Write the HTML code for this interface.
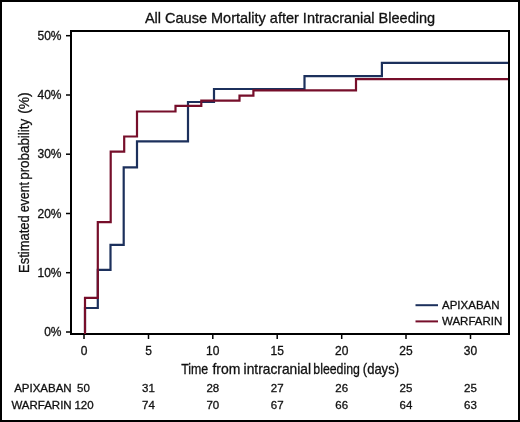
<!DOCTYPE html>
<html><head><meta charset="utf-8">
<style>
html,body{margin:0;padding:0;background:#fff;}
svg{display:block;will-change:transform;}
text{font-family:"Liberation Sans",sans-serif;fill:#111;stroke:#111;stroke-width:0.3px;}
</style></head>
<body>
<svg width="520" height="422" viewBox="0 0 520 422">
<rect x="0" y="0" width="520" height="422" fill="#fff"/>
<rect x="1" y="1" width="518" height="420" fill="none" stroke="#000" stroke-width="2"/>
<!-- title -->
<text x="290" y="23" font-size="14.5" text-anchor="middle">All Cause Mortality after Intracranial Bleeding</text>
<!-- plot frame -->
<rect x="71" y="31" width="438" height="303" fill="none" stroke="#000" stroke-width="2"/>
<!-- y ticks -->
<g stroke="#000" stroke-width="1.5">
<line x1="66" y1="332" x2="70" y2="332"/>
<line x1="66" y1="272.7" x2="70" y2="272.7"/>
<line x1="66" y1="213.5" x2="70" y2="213.5"/>
<line x1="66" y1="154.2" x2="70" y2="154.2"/>
<line x1="66" y1="95" x2="70" y2="95"/>
<line x1="66" y1="35.7" x2="70" y2="35.7"/>
</g>
<g font-size="12" text-anchor="end">
<text x="61.5" y="336">0%</text>
<text x="61.5" y="276.7">10%</text>
<text x="61.5" y="217.5">20%</text>
<text x="61.5" y="158.2">30%</text>
<text x="61.5" y="99">40%</text>
<text x="61.5" y="39.7">50%</text>
</g>
<!-- x ticks -->
<g stroke="#000" stroke-width="1.5">
<line x1="84" y1="335" x2="84" y2="339"/>
<line x1="148.5" y1="335" x2="148.5" y2="339"/>
<line x1="212.8" y1="335" x2="212.8" y2="339"/>
<line x1="277.2" y1="335" x2="277.2" y2="339"/>
<line x1="341.7" y1="335" x2="341.7" y2="339"/>
<line x1="406" y1="335" x2="406" y2="339"/>
<line x1="470.5" y1="335" x2="470.5" y2="339"/>
</g>
<g font-size="12" text-anchor="middle">
<text x="84" y="355">0</text>
<text x="148.5" y="355">5</text>
<text x="212.8" y="355">10</text>
<text x="277.2" y="355">15</text>
<text x="341.7" y="355">20</text>
<text x="406" y="355">25</text>
<text x="470.5" y="355">30</text>
</g>
<!-- axis titles -->
<g font-size="14.5">
<text x="181.2" y="373.6" textLength="27" lengthAdjust="spacingAndGlyphs">Time</text>
<text x="212.4" y="373.6" textLength="27.9" lengthAdjust="spacingAndGlyphs">from</text>
<text x="243.6" y="373.6" textLength="67.4" lengthAdjust="spacingAndGlyphs">intracranial</text>
<text x="313.3" y="373.6" textLength="46.6" lengthAdjust="spacingAndGlyphs">bleeding</text>
<text x="362.8" y="373.6" textLength="36.2" lengthAdjust="spacingAndGlyphs">(days)</text>
</g>
<g font-size="15">
<text transform="translate(29 273) rotate(-90)" textLength="57.8" lengthAdjust="spacingAndGlyphs">Estimated</text>
<text transform="translate(29 212.3) rotate(-90)" textLength="30.3" lengthAdjust="spacingAndGlyphs">event</text>
<text transform="translate(29 179.8) rotate(-90)" textLength="61" lengthAdjust="spacingAndGlyphs">probability</text>
<text transform="translate(29 113.8) rotate(-90)" textLength="21.5" lengthAdjust="spacingAndGlyphs">(%)</text>
</g>
<!-- curves -->
<path d="M85 332 V308 H97.8 V269.8 H110.5 V244.8 H123.7 V167.3 H137 V141.4 H188 V102 H214 V89 H304.5 V76.1 H381.9 V62.9 H508" fill="none" stroke="#1c305c" stroke-width="2.2"/>
<path d="M85 334 V297.8 H97.8 V222.2 H110.7 V151.7 H124.2 V136.5 H137 V111.5 H175.5 V105.9 H201.3 V100.7 H239.5 V95.7 H253.4 V90.4 H356 V79.2 H508" fill="none" stroke="#760e2a" stroke-width="2.2"/>
<!-- legend -->
<line x1="415.5" y1="305.2" x2="438" y2="305.2" stroke="#1c305c" stroke-width="2"/>
<line x1="415.5" y1="321.4" x2="438" y2="321.4" stroke="#760e2a" stroke-width="2"/>
<g font-size="11.5">
<text x="442" y="308.5">APIXABAN</text>
<text x="442" y="324.8">WARFARIN</text>
</g>
<!-- at risk table -->
<g font-size="11.5">
<text x="71.7" y="392.4" text-anchor="end">APIXABAN</text>
<text x="71.7" y="408.8" text-anchor="end">WARFARIN</text>
</g>
<g font-size="11.5" text-anchor="middle">
<text x="83.5" y="392.4">50</text>
<text x="148.5" y="392.4">31</text>
<text x="212.8" y="392.4">28</text>
<text x="277.2" y="392.4">27</text>
<text x="341.7" y="392.4">26</text>
<text x="406" y="392.4">25</text>
<text x="470.5" y="392.4">25</text>
<text x="84" y="408.8">120</text>
<text x="148.5" y="408.8">74</text>
<text x="212.8" y="408.8">70</text>
<text x="277.2" y="408.8">67</text>
<text x="341.7" y="408.8">66</text>
<text x="406" y="408.8">64</text>
<text x="470.5" y="408.8">63</text>
</g>
</svg>
</body></html>
